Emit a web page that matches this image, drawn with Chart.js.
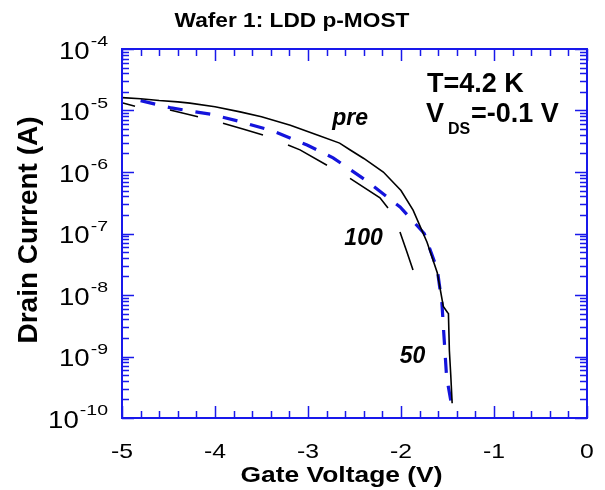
<!DOCTYPE html>
<html>
<head>
<meta charset="utf-8">
<script src="https://cdn.jsdelivr.net/npm/chart.js@4.4.1/dist/chart.umd.min.js"></script>
<style>
html,body{margin:0;padding:0;background:#fff;}
#wrap{width:605px;height:490px;position:relative;}
</style>
</head>
<body>
<div id="wrap"><canvas id="c" width="605" height="490"></canvas></div>
<script>
// ---- data ----
const preV = [-5.0, -4.8, -4.6, -4.4, -4.27, -4.0, -3.73, -3.5, -3.19, -2.9, -2.66, -2.55, -2.4, -2.19, -2.0, -1.87, -1.72, -1.61, -1.545, -1.50, -1.49, -1.48, -1.465, -1.45];
const preI = [1.62e-5, 1.55e-5, 1.45e-5, 1.38e-5, 1.32e-5, 1.15e-5, 9.5e-6, 7.9e-6, 5.75e-6, 4.0e-6, 2.95e-6, 2.3e-6, 1.66e-6, 1.0e-6, 5.0e-7, 2.4e-7, 7.2e-8, 2.3e-8, 6.5e-9, 5.2e-9, 5.0e-9, 1.26e-9, 5.0e-10, 1.74e-10];

const d50V = [-4.80, -4.47, -4.05, -3.73, -3.37, -3.01, -2.73, -2.37, -2.01, -1.75, -1.61, -1.56, -1.54, -1.51, -1.46];
const d50I = [1.45e-5, 1.10e-5, 8.7e-6, 6.6e-6, 4.6e-6, 2.75e-6, 1.70e-6, 7.2e-7, 2.7e-7, 1.0e-7, 2.6e-8, 7.4e-9, 2.4e-9, 4.7e-10, 1.74e-10];

// "100" curve: broken trace, null marks each break
const d100V = [-4.99, -4.86, -4.70, -4.484, -4.183, -4.05, -3.914, -3.70, -3.484, -3.35, -3.215, -3.086, -2.796, -2.67, -2.548, -2.226, -2.140, -2.07, -2.011, -1.94, -1.871];
const d100I = [1.32e-5, 1.17e-5, null, 1.02e-5, 7.9e-6, null, 6.2e-6, 5.0e-6, 4.0e-6, null, 2.75e-6, 2.29e-6, 1.29e-6, null, 7.9e-7, 3.8e-7, 2.6e-7, null, 1.06e-7, 5.2e-8, 2.55e-8];

const xTickValues = [-5, -4, -3, -2, -1, 0];
const xTickLabels = ['-5', '-4', '-3', '-2', '-1', '0'];
const yTickExps = [-4, -5, -6, -7, -8, -9, -10];

const titleText = 'Wafer 1: LDD p-MOST';
const xTitle = 'Gate Voltage (V)';
const yTitle = 'Drain Current (A)';
const curveLabels = [
  {text: 'pre', v: -2.548, i: 5.8e-6},
  {text: '100', v: -2.403, i: 6.5e-8},
  {text: '50', v: -1.876, i: 7.8e-10}
];

const pts = (xs, ys) => xs.map((x, k) => ({x: x, y: ys[k]}));

const FONT = '"Liberation Sans", Arial, Helvetica, sans-serif';
const BLUE = 'rgb(25,25,235)';

function txt(ctx, str, x, y, font, align, sx) {
  ctx.save();
  ctx.font = font;
  ctx.textAlign = align;
  ctx.textBaseline = 'alphabetic';
  ctx.translate(x, y);
  ctx.scale(sx, 1);
  ctx.fillText(str, 0, 0);
  ctx.restore();
}

const decor = {
  id: 'decor',
  afterDraw(chart) {
    const ctx = chart.ctx;
    const xs = chart.scales.x, ys = chart.scales.y;
    const a = chart.chartArea;
    ctx.save();
    // frame
    ctx.strokeStyle = BLUE;
    ctx.lineWidth = 2;
    ctx.strokeRect(a.left, a.top, a.right - a.left, a.bottom - a.top);
    ctx.lineWidth = 1.5;
    ctx.beginPath();
    for (let k = 0; k <= 25; k++) {
      const v = -5 + k * 0.2;
      const px = Math.round(xs.getPixelForValue(v)) + 0.5;
      const len = (k % 5 === 0) ? 12 : 7;
      ctx.moveTo(px, a.bottom); ctx.lineTo(px, a.bottom - len);
      ctx.moveTo(px, a.top); ctx.lineTo(px, a.top + len);
    }
    for (let e = -10; e <= -4; e++) {
      for (let m = 1; m <= 9; m++) {
        if (e === -4 && m > 1) break;
        const py = Math.round(ys.getPixelForValue(m * Math.pow(10, e))) + 0.5;
        const len = (m === 1) ? 12 : 7;
        ctx.moveTo(a.left, py); ctx.lineTo(a.left + len, py);
        ctx.moveTo(a.right, py); ctx.lineTo(a.right - len, py);
      }
    }
    ctx.stroke();

    ctx.fillStyle = '#000';
    // x tick labels
    xTickValues.forEach((v, k) => {
      txt(ctx, xTickLabels[k], xs.getPixelForValue(v), a.bottom + 40, '21px ' + FONT, 'center', 1.18);
    });
    // y tick labels 10^e
    yTickExps.forEach(e => {
      const py = ys.getPixelForValue(Math.pow(10, e));
      const expStr = String(e);
      const right = a.left - 14;
      ctx.font = '15px ' + FONT;
      const ew = ctx.measureText(expStr).width * 1.3;
      txt(ctx, expStr, right, py - 3, '15px ' + FONT, 'right', 1.3);
      txt(ctx, '10', right - ew - 1, py + 9.5, '24px ' + FONT, 'right', 1.15);
    });
    // axis titles
    txt(ctx, xTitle, 341.5, 482, 'bold 22px ' + FONT, 'center', 1.2);
    ctx.save();
    ctx.translate(37, 230);
    ctx.rotate(-Math.PI / 2);
    ctx.font = 'bold 28px ' + FONT;
    ctx.textAlign = 'center';
    ctx.textBaseline = 'alphabetic';
    ctx.fillText(yTitle, 0, 0);
    ctx.restore();
    // chart title
    txt(ctx, titleText, 292, 27, 'bold 21px ' + FONT, 'center', 1.08);
    // annotation
    txt(ctx, 'T=4.2 K', 427, 92, 'bold 27px ' + FONT, 'left', 1);
    txt(ctx, 'V', 426, 122, 'bold 27px ' + FONT, 'left', 1);
    txt(ctx, 'DS', 448, 134, 'bold 16px ' + FONT, 'left', 1);
    txt(ctx, '=-0.1 V', 471, 122, 'bold 27px ' + FONT, 'left', 1);
    // curve labels
    curveLabels.forEach(l => {
      txt(ctx, l.text, xs.getPixelForValue(l.v), ys.getPixelForValue(l.i), 'italic bold 23px ' + FONT, 'center', 1);
    });
    ctx.restore();
  }
};

new Chart(document.getElementById('c'), {
  type: 'line',
  data: {
    datasets: [
      {label: 'pre', data: pts(preV, preI), borderColor: '#000', borderWidth: 1.6, pointRadius: 0, tension: 0, fill: false},
      {label: '100', data: pts(d100V, d100I), borderColor: '#000', borderWidth: 1.6, spanGaps: false, pointRadius: 0, tension: 0, fill: false},
      {label: '50', data: pts(d50V, d50I), borderColor: 'rgb(20,20,220)', borderWidth: 3.2, borderDash: [15, 13], pointRadius: 0, tension: 0, fill: false}
    ]
  },
  options: {
    responsive: false,
    animation: false,
    devicePixelRatio: 1,
    layout: {padding: {left: 122, right: 18, top: 49, bottom: 72}},
    plugins: {legend: {display: false}, title: {display: false}, tooltip: {enabled: false}},
    scales: {
      x: {type: 'linear', min: -5, max: 0, display: false},
      y: {type: 'logarithmic', min: 1e-10, max: 1e-4, display: false}
    }
  },
  plugins: [decor]
});
</script>
</body>
</html>
